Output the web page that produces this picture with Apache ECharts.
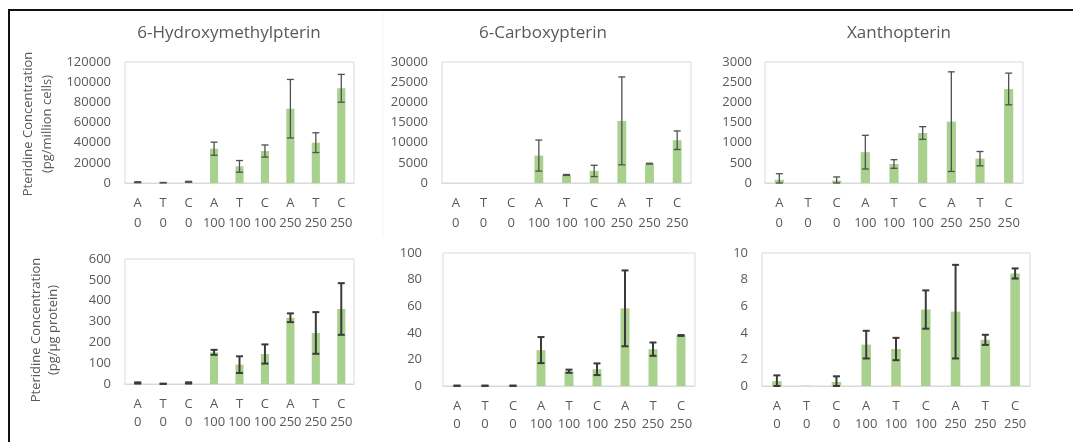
<!DOCTYPE html>
<html>
<head>
<meta charset="utf-8">
<script src="https://cdn.jsdelivr.net/npm/echarts@6/dist/echarts.min.js"></script>
<style>
html,body{margin:0;padding:0;background:#fff;}
#chart{width:1073px;height:442px;}
</style>
</head>
<body>
<div id="chart"></div>
<script>
// ---- data ----
var categories = ['A\n0','T\n0','C\n0','A\n100','T\n100','C\n100','A\n250','T\n250','C\n250'];
var titles = ['6-Hydroxymethylpterin','6-Carboxypterin','Xanthopterin'];
var yNameCells = 'Pteridine Concentration\n(pg/million cells)';
var yNameProtein = 'Pteridine Concentration\n(pg/\u03bcg protein)';

// per million cells
var hmpCells    = [800, 300, 1200, 34000, 16500, 31700, 73700, 40000, 93900];
var hmpCellsErr = [500, 200, 500, 6500, 5800, 6000, 29000, 9800, 13800];
var cbxCells    = [0, 0, 0, 6800, 2000, 3000, 15400, 4800, 10600];
var cbxCellsErr = [0, 0, 0, 3850, 120, 1400, 10900, 100, 2300];
var xanCells    = [80, 0, 60, 765, 471, 1240, 1521, 603, 2331];
var xanCellsErr = [150, 0, 90, 418, 107, 157, 1235, 178, 393];

// per ug protein
var hmpProt    = [5, 1, 5, 152, 93, 144, 318, 245, 360];
var hmpProtErr = [3, 0.5, 3, 12, 40, 46, 21, 100, 124];
var cbxProt    = [0.2, 0.2, 0.2, 27, 11.1, 12.6, 58.4, 27.7, 38];
var cbxProtErr = [0.1, 0.1, 0.1, 9.8, 1.2, 4.4, 28.5, 5, 0.3];
var xanProt    = [0.37, 0.02, 0.3, 3.11, 2.78, 5.75, 5.59, 3.47, 8.46];
var xanProtErr = [0.43, 0, 0.43, 1.04, 0.84, 1.44, 3.52, 0.38, 0.38];

var yMax = [120000, 30000, 3000, 600, 100, 10];
var yStep = [20000, 5000, 500, 100, 20, 2];

var panels = [
  {v: hmpCells, e: hmpCellsErr},
  {v: cbxCells, e: cbxCellsErr},
  {v: xanCells, e: xanCellsErr},
  {v: hmpProt, e: hmpProtErr},
  {v: cbxProt, e: cbxProtErr},
  {v: xanProt, e: xanProtErr}
];

// ---- layout ----
var grids = [
  {left:125, top:62, width:229, height:121},
  {left:442, top:62, width:249, height:121},
  {left:765, top:62, width:258, height:121},
  {left:125, top:259, width:229, height:125},
  {left:443, top:253, width:252, height:133},
  {left:762, top:253, width:268, height:133}
];
var labelMargins = [14, 14, 13, 14, 21, 14];

var txt = '#595959';
var font = '"Open Sans", "Liberation Sans", sans-serif';

var option = {
  animation: false,
  backgroundColor: '#fff',
  grid: [], xAxis: [], yAxis: [], series: [],
  graphic: []
};

grids.forEach(function(g, i){
  var top = i < 3;
  option.grid.push({left:g.left, top:g.top, width:g.width, height:g.height,
    show:true, borderColor:'#d9d9d9', borderWidth:1, containLabel:false});
  option.xAxis.push({type:'category', gridIndex:i, data:categories,
    axisLine:{show:true, lineStyle:{color:'#d9d9d9'}}, axisTick:{show:false},
    axisLabel:{interval:0, color:txt, fontSize:13, fontFamily:font,
      lineHeight: top ? 20 : 18, margin: top ? 10 : 11}});
  option.yAxis.push({type:'value', gridIndex:i, min:0, max:yMax[i], interval:yStep[i],
    splitLine:{show:false}, axisLine:{show:false}, axisTick:{show:false},
    axisLabel:{color:txt, fontSize:13, fontFamily:font, margin:labelMargins[i],
      formatter:function(v){ return String(v); }}});
  option.series.push({type:'bar', xAxisIndex:i, yAxisIndex:i, data:panels[i].v,
    barWidth:'32%', itemStyle:{color:'#a9d18e'}});
  var errData = panels[i].v.map(function(v, k){ return [k, v, panels[i].e[k]]; });
  option.series.push({type:'custom', xAxisIndex:i, yAxisIndex:i, data:errData, z:5,
    renderItem: function(params, api){
      var x = api.value(0), v = api.value(1), e = api.value(2);
      if (!(e > 0)) return null;
      var hi = api.coord([x, v + e]);
      var lo = api.coord([x, Math.max(v - e, 0)]);
      var cap = 3.5;
      var st = {stroke: top ? '#505050' : '#3a3a3a', lineWidth: top ? 1.3 : 2};
      return {type:'group', children:[
        {type:'line', shape:{x1:hi[0], y1:hi[1], x2:lo[0], y2:lo[1]}, style:st},
        {type:'line', shape:{x1:hi[0]-cap, y1:hi[1], x2:hi[0]+cap, y2:hi[1]}, style:st},
        {type:'line', shape:{x1:lo[0]-cap, y1:lo[1], x2:lo[0]+cap, y2:lo[1]}, style:st}
      ]};
    }
  });
});

var titleX = [229, 543, 899];
titles.forEach(function(t, i){
  option.graphic.push({type:'text', x:titleX[i], y:33,
    style:{text:t, fill:txt, font:'17px ' + font, align:'center', verticalAlign:'middle'}});
});

option.graphic.push({type:'text', x:38, y:124, rotation:Math.PI/2,
  style:{text:yNameCells, fill:txt, font:'13px ' + font, align:'center', verticalAlign:'middle', lineHeight:19}});
option.graphic.push({type:'text', x:45, y:330, rotation:Math.PI/2,
  style:{text:yNameProtein, fill:txt, font:'13px ' + font, align:'center', verticalAlign:'middle', lineHeight:17}});

// frame lines
option.graphic.push({type:'line', shape:{x1:8, y1:10, x2:1073, y2:10}, style:{stroke:'#111', lineWidth:2}});
option.graphic.push({type:'line', shape:{x1:9, y1:9, x2:9, y2:442}, style:{stroke:'#111', lineWidth:2}});
// faint chart-area separators
option.graphic.push({type:'line', shape:{x1:383, y1:12, x2:383, y2:238}, style:{stroke:'#f4f4f4', lineWidth:1}});

var chart = echarts.init(document.getElementById('chart'), null, {renderer:'canvas'});
chart.setOption(option);
</script>
</body>
</html>
